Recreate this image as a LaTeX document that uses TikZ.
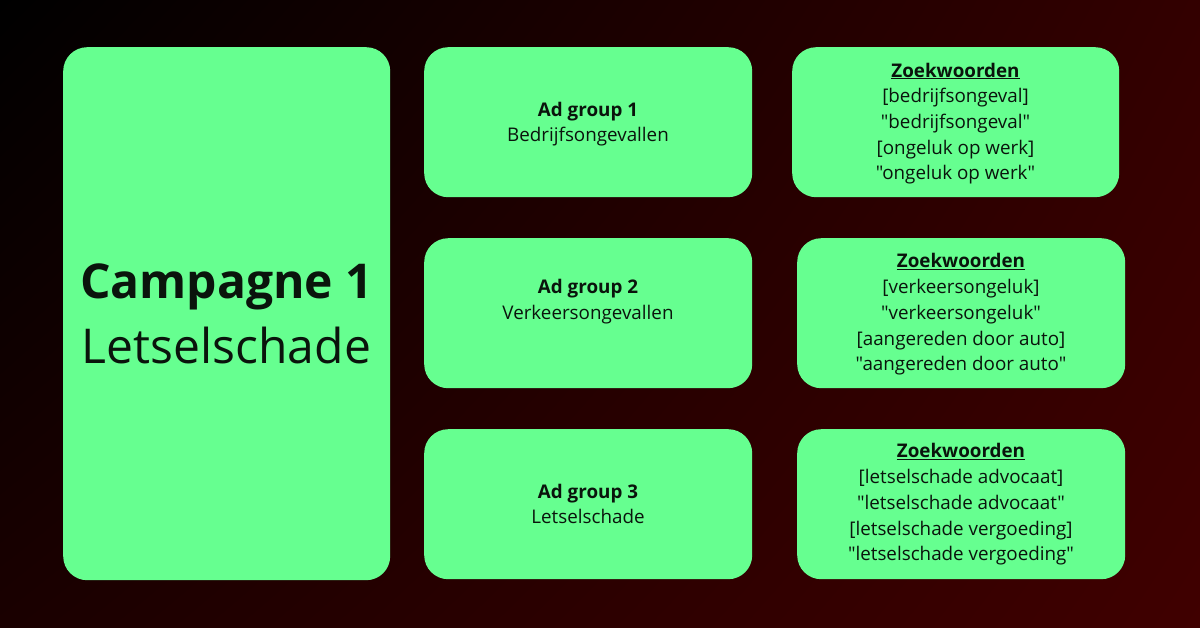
\documentclass[tikz,border=0pt]{standalone}
\usepackage{fontspec}
\setmainfont{Open Sans}[Ligatures=TeXOff]
\usetikzlibrary{shadings}
\begin{document}
\begin{tikzpicture}[x=1pt,y=-1pt,
  box/.style={fill=boxgreen,draw=none,rounded corners=24pt,inner sep=0pt,anchor=north west},
  ttl/.style={anchor=base,inner sep=0pt,text=txtdark,font=\fontsize{18.8}{22}\selectfont\bfseries},
  line/.style={anchor=base,inner sep=0pt,text=txtdark,font=\fontsize{18.8}{22}\selectfont},
  big/.style={anchor=base,inner sep=0pt,text=txtdark,font=\fontsize{48}{56}\selectfont}]
\definecolor{boxgreen}{HTML}{66FF90}
\definecolor{txtdark}{HTML}{0A140C}
\definecolor{bgtl}{HTML}{000000}
\definecolor{bgtr}{HTML}{330000}
\definecolor{bgbl}{HTML}{1A0000}
\definecolor{bgbr}{HTML}{400000}
\useasboundingbox (0,0) rectangle (1200,627);
\shade[upper left=bgtl,upper right=bgtr,lower left=bgbl,lower right=bgbr] (0,0) rectangle (1200,627);
% campaign
\node[box,minimum width=327pt,minimum height=533pt] (camp) at (63,47) {};
\node[big,font=\fontsize{48}{56}\selectfont\bfseries] (campt) at (226.5,298) {Campagne 1};
\node[big] (camps) at (226.5,363) {Letselschade};
% ad groups
\node[box,minimum width=328pt,minimum height=150pt] (ad1) at (424,47) {};
\node[box,minimum width=328pt,minimum height=150pt] (ad2) at (424,238) {};
\node[box,minimum width=328pt,minimum height=150pt] (ad3) at (424,429) {};
\node[ttl] (ad1t) at (588,116.7) {Ad group 1};
\node[line] (ad1s) at (588,141.7) {Bedrijfsongevallen};
\node[ttl] (ad2t) at (588,293.3) {Ad group 2};
\node[line] (ad2s) at (588,319.3) {Verkeersongevallen};
\node[ttl] (ad3t) at (588,498.3) {Ad group 3};
\node[line] (ad3s) at (588,523.3) {Letselschade};
% keywords
\node[box,minimum width=327pt,minimum height=150pt] (kw1) at (792,47) {};
\node[box,minimum width=328pt,minimum height=150pt] (kw2) at (797,238) {};
\node[box,minimum width=328pt,minimum height=150pt] (kw3) at (797,429) {};
\node[ttl] (kw1t) at (955.5,77) {\underline{Zoekwoorden}};
\node[line] (kw1a) at (955.5,102.7) {[bedrijfsongeval]};
\node[line] (kw1b) at (955.5,128.3) {"bedrijfsongeval"};
\node[line] (kw1c) at (955.5,154) {[ongeluk op werk]};
\node[line] (kw1d) at (955.5,179.5) {"ongeluk op werk"};
\node[ttl] (kw2t) at (961,267.3) {\underline{Zoekwoorden}};
\node[line] (kw2a) at (961,293.3) {[verkeersongeluk]};
\node[line] (kw2b) at (961,319) {"verkeersongeluk"};
\node[line] (kw2c) at (961,345) {[aangereden door auto]};
\node[line] (kw2d) at (961,370.3) {"aangereden door auto"};
\node[ttl] (kw3t) at (961,457.3) {\underline{Zoekwoorden}};
\node[line] (kw3a) at (961,483.3) {[letselschade advocaat]};
\node[line] (kw3b) at (961,509.3) {"letselschade advocaat"};
\node[line] (kw3c) at (961,535) {[letselschade vergoeding]};
\node[line] (kw3d) at (961,560.3) {"letselschade vergoeding"};
\end{tikzpicture}
\end{document}
